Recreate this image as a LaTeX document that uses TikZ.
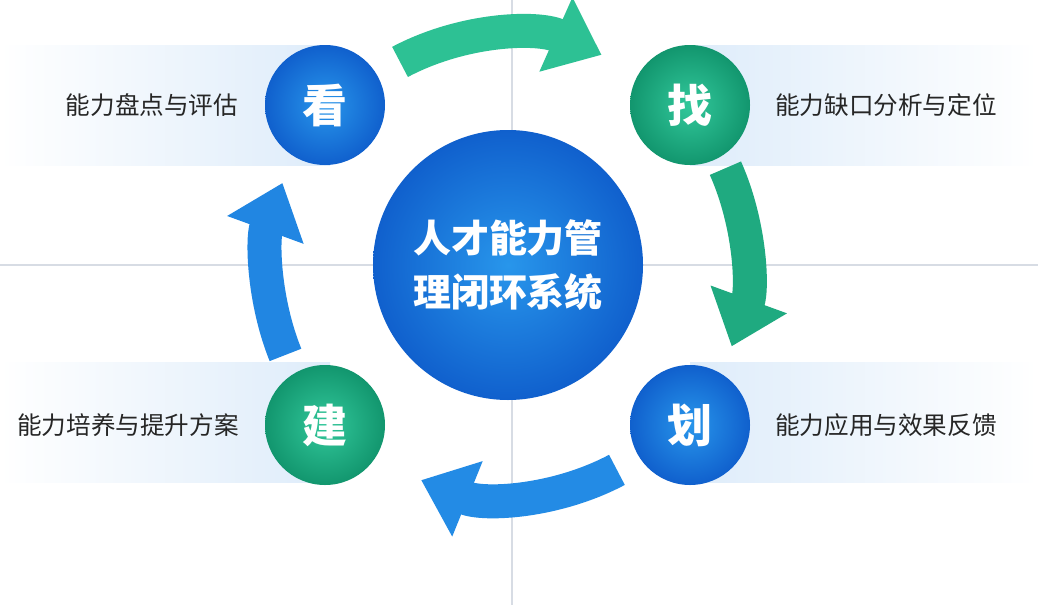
\documentclass[tikz,border=0pt]{standalone}
\usepackage{fontspec}
\newfontfamily\cjk{Noto Sans CJK SC}
\usetikzlibrary{arrows.meta,positioning}
\definecolor{bandblue}{RGB}{222,236,250}
\definecolor{deepblue}{RGB}{16,96,205}
\definecolor{lightblue}{RGB}{40,150,235}
\definecolor{deepgreen}{RGB}{18,150,110}
\definecolor{lightgreen}{RGB}{50,200,155}
\definecolor{gridgray}{RGB}{215,220,228}
\tikzset{
  stage/.style={circle,minimum size=120*0.025cm,inner sep=0pt,text=white,
    font=\cjk\fontsize{32}{32}\selectfont\bfseries},
  blue stage/.style={stage,inner color=lightblue,outer color=deepblue},
  green stage/.style={stage,inner color=lightgreen,outer color=deepgreen},
  label/.style={font=\cjk\fontsize{17.5}{17.5}\selectfont,text=black!85},
  loop arrow/.style={line width=34*0.025cm,
    -{Triangle[length=50*0.025cm,width=78*0.025cm]}},
}
\begin{document}
\begin{tikzpicture}[x=0.025cm,y=-0.025cm]
\useasboundingbox (0,0) rectangle (1038,605);
\fill[white] (0,0) rectangle (1038,605);
% faint grid
\draw[gridgray,line width=1.5*0.025cm] (512,0) -- (512,605);
\draw[gridgray,line width=1.5*0.025cm] (0,265) -- (1038,265);
% bands
\shade[left color=white,right color=bandblue] (0,45) rectangle (330,165);
\shade[left color=bandblue,right color=white] (690,45) rectangle (1038,165);
\shade[left color=white,right color=bandblue] (0,362) rectangle (330,482);
\shade[left color=bandblue,right color=white] (690,362) rectangle (1038,482);
% loop arrows
\draw[loop arrow,lightgreen!85!deepgreen] (508,265) ++(-118:230) arc (-118:-66:230);
\draw[loop arrow,deepgreen!60!lightgreen] (508,265) ++(-24:238) arc (-24:20:238);
\draw[loop arrow,lightblue!80!deepblue] (508,265) ++(62:232) arc (62:112:232);
\draw[loop arrow,lightblue!70!deepblue] (508,265) ++(158:240) arc (158:200:240);
% circles
\node[circle,minimum size=270*0.025cm,inner sep=0pt,inner color=lightblue,
  outer color=deepblue,text=white,align=center,
  font=\cjk\fontsize{27}{38}\selectfont\bfseries]
  (core) at (508,265) {人才能力管\\理闭环系统};
\node[blue stage] (look) at (325,105) {看};
\node[green stage] (find) at (690,105) {找};
\node[blue stage] (plan) at (690,425) {划};
\node[green stage] (build) at (325,425) {建};
% labels
\node[label] (lookL) at (152,105) {能力盘点与评估};
\node[label] (findL) at (886,105) {能力缺口分析与定位};
\node[label] (buildL) at (128,425) {能力培养与提升方案};
\node[label] (planL) at (886,425) {能力应用与效果反馈};
\end{tikzpicture}
\end{document}
